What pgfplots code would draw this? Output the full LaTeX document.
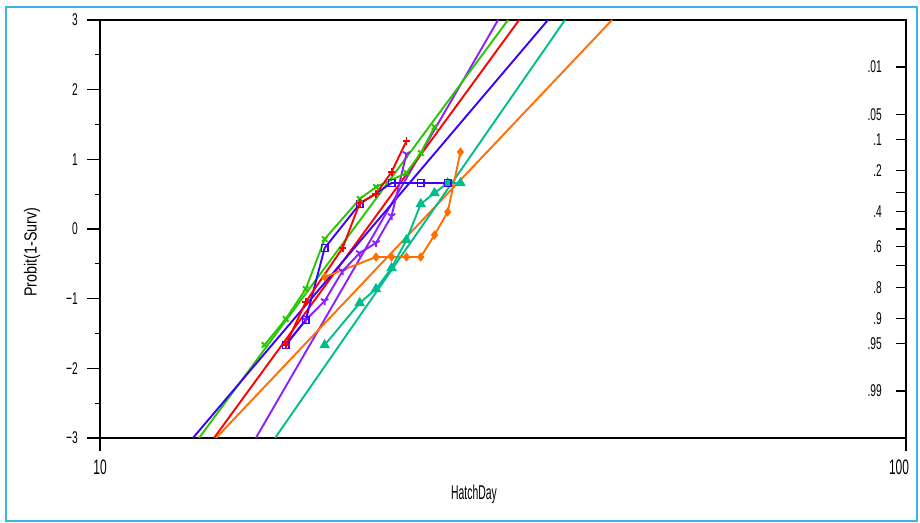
\documentclass[border=0pt]{standalone}
\usepackage{fontspec}
\setmainfont{Liberation Sans}
\newfontfamily\condY{Liberation Sans}[FakeStretch=0.6]
\newfontfamily\condX{Liberation Sans}[FakeStretch=0.57]
\newfontfamily\condL{Liberation Sans}[FakeStretch=0.52]
\newfontfamily\condP{Liberation Sans}[FakeStretch=0.82]
\usepackage{pgfplots}
\pgfplotsset{compat=1.18}
\usetikzlibrary{plotmarks}
\definecolor{cred}{RGB}{255,0,0}
\definecolor{cgreen}{RGB}{40,200,0}
\definecolor{cblue}{RGB}{60,0,255}
\definecolor{cpurple}{RGB}{140,30,255}
\definecolor{corange}{RGB}{255,110,0}
\definecolor{cteal}{RGB}{0,190,140}
\definecolor{cframe}{RGB}{60,180,230}
\begin{document}
\begin{tikzpicture}[x=1bp,y=1bp]
\useasboundingbox (0,0) rectangle (920,523);
\draw[cframe, line width=2bp] (6,2) rectangle (917,516);
\begin{axis}[at={(100bp,85bp)}, anchor=south west, scale only axis,
  width=806bp, height=418bp,
  xmode=log, xmin=10, xmax=100, ymin=-3, ymax=3,
  xtick={10,100}, xticklabels={10,{\hspace*{-14bp}100}}, xminorticks=false,
  ytick={-3,-2,-1,0,1,2,3}, yticklabels={−3,−2,−1,0,1,2,3},
  minor ytick={-2.5,-1.5,-0.5,0.5,1.5,2.5},
  tick align=outside, xtick pos=bottom, ytick pos=left,
  major tick length=13bp, minor tick length=5bp,
  axis line style={line width=1.8bp},
  tick style={line width=1.3bp, black},
  yticklabel style={font=\fontsize{17bp}{17bp}\condY, inner sep=0pt, xshift=-9bp},
  xticklabel style={font=\fontsize{21bp}{21bp}\condX, inner sep=0pt, yshift=-9bp},
  every axis plot/.append style={line width=1.9bp},
]
% fitted lines
\addplot[cpurple] coordinates {(15.61,-3) (31.18,3)};
\addplot[cgreen] coordinates {(13.27,-3) (32.08,3)};
\addplot[cred] coordinates {(13.85,-3) (33.11,3)};
\addplot[cblue] coordinates {(13.04,-3) (35.96,3)};
\addplot[corange] coordinates {(13.93,-3) (43.18,3)};
\addplot[cteal] coordinates {(16.49,-3) (37.75,3)};
% observed
\addplot[corange, mark=diamond*, mark size=3.2bp] coordinates {(19,-0.689) (22,-0.402) (23,-0.402) (24,-0.402) (25,-0.402) (26,-0.086) (27,0.244) (28,1.105)};
\addplot[cteal, mark=triangle*, mark size=4.2bp] coordinates {(19,-1.665) (21,-1.062) (22,-0.861) (23,-0.560) (24,-0.158) (25,0.359) (26,0.517) (27,0.660) (28,0.660)};
\addplot[cpurple, mark=Mercedes star flipped, mark size=4.2bp] coordinates {(17,-1.665) (18,-1.306) (19,-1.033) (20,-0.603) (21,-0.344) (22,-0.201) (23,0.187) (24,1.077)};
\addplot[cblue, mark=square, mark size=3.3bp, mark options={line width=1.5bp}] coordinates {(17,-1.665) (18,-1.306) (19,-0.273) (21,0.359) (23,0.660) (25,0.660) (27,0.660)};
\addplot[cgreen, mark=x, mark size=3.8bp] coordinates {(16,-1.665) (17,-1.292) (18,-0.861) (19,-0.144) (21,0.431) (22,0.603) (24,0.804) (25,1.091) (26,1.464)};
\addplot[cred, mark=+, mark size=3.8bp] coordinates {(17,-1.665) (18,-1.048) (20,-0.273) (21,0.373) (22,0.502) (23,0.818) (24,1.263)};
\end{axis}
\begin{axis}[at={(100bp,85bp)}, anchor=south west, scale only axis,
  width=806bp, height=418bp,
  xmode=log, xmin=10, xmax=100, ymin=-3, ymax=3,
  hide x axis, axis y line*=right,
  ytick={2.326,1.645,1.2816,0.8416,0.5244,0.2533,0,-0.2533,-0.5244,-0.8416,-1.2816,-1.645,-2.326},
  yticklabels={.01,.05,.1,.2,,.4,,.6,,.8,.9,.95,.99},
  tick align=inside, major tick length=10bp,
  axis line style={line width=1.8bp},
  tick style={line width=1.3bp, black},
  yticklabel style={font=\fontsize{17bp}{17bp}\condY, anchor=east, inner sep=0pt, xshift=-24bp},
]
\addplot[draw=none] coordinates {(20,0)};
\end{axis}
\node[rotate=90, font=\fontsize{17.5bp}{17.5bp}\condP] at (32,271) {Probit(1-Surv)};
\node[font=\fontsize{20bp}{20bp}\condL] at (474,29) {HatchDay};
\end{tikzpicture}
\end{document}
